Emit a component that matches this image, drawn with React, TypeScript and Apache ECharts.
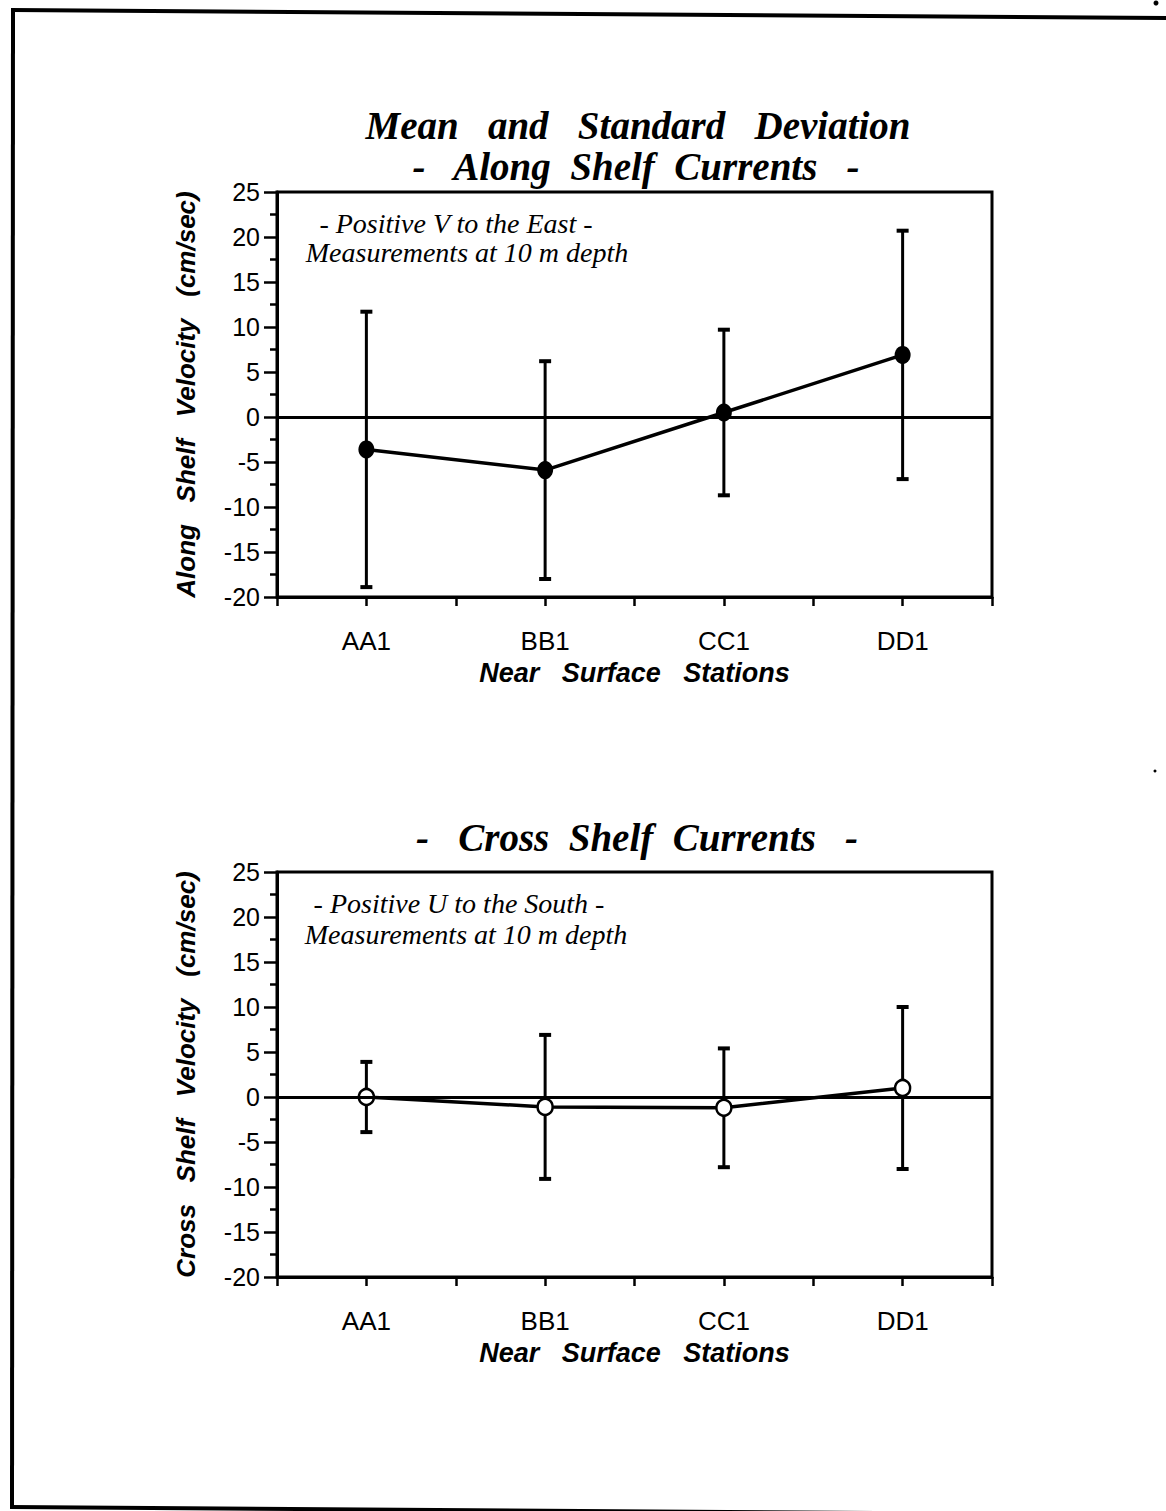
import React, { useEffect, useRef } from "react";
import * as echarts from "echarts";

const stations = ["AA1", "BB1", "CC1", "DD1"];
const alongMean = [-3.6, -5.9, 0.5, 6.9];
const alongStd = [15.3, 12.1, 9.2, 13.8];
const crossMean = [0.0, -1.1, -1.2, 1.0];
const crossStd = [3.9, 8.0, 6.6, 9.0];
const yMin = -20;
const yMax = 25;
const yStep = 5;

const SERIF = "'Liberation Serif', 'Times New Roman', serif";
const SANS = "'Liberation Sans', Arial, Helvetica, sans-serif";

function errorBarRender(params: any, api: any) {
  const x = api.value(0);
  const lo = api.value(1);
  const hi = api.value(2);
  const top = api.coord([x, hi]);
  const bot = api.coord([x, lo]);
  const w = 6;
  return {
    type: "group",
    children: [
      {
        type: "line",
        shape: { x1: top[0], y1: top[1], x2: bot[0], y2: bot[1] },
        style: { stroke: "#000", lineWidth: 3 },
      },
      {
        type: "line",
        shape: { x1: top[0] - w, y1: top[1], x2: top[0] + w, y2: top[1] },
        style: { stroke: "#000", lineWidth: 4 },
      },
      {
        type: "line",
        shape: { x1: bot[0] - w, y1: bot[1], x2: bot[0] + w, y2: bot[1] },
        style: { stroke: "#000", lineWidth: 4 },
      },
    ],
  };
}

function makeXAxis(gridIndex: number) {
  return {
    type: "value",
    gridIndex,
    min: -0.5,
    max: 3.5,
    interval: 0.5,
    name: "Near   Surface   Stations",
    nameLocation: "middle",
    nameGap: 62,
    nameTextStyle: {
      fontFamily: SANS,
      fontSize: 27,
      fontWeight: "bold",
      fontStyle: "italic",
      color: "#000",
    },
    axisLine: { show: true, onZero: false, lineStyle: { color: "#000", width: 3 } },
    axisTick: { show: true, inside: false, length: 9, lineStyle: { color: "#000", width: 2.5 } },
    axisLabel: {
      margin: 31,
      fontFamily: SANS,
      fontSize: 26,
      color: "#000",
      formatter: (v: number) => (Number.isInteger(v) && stations[v] ? stations[v] : ""),
    },
    splitLine: { show: false },
  };
}

function makeYAxis(gridIndex: number, name: string) {
  return {
    type: "value",
    gridIndex,
    min: yMin,
    max: yMax,
    interval: yStep,
    name,
    nameLocation: "middle",
    nameGap: 78,
    nameRotate: 90,
    nameTextStyle: {
      fontFamily: SANS,
      fontSize: 26,
      fontWeight: "bold",
      fontStyle: "italic",
      color: "#000",
    },
    axisLine: { show: true, onZero: false, lineStyle: { color: "#000", width: 3 } },
    axisTick: { show: true, inside: false, length: 13, lineStyle: { color: "#000", width: 2.5 } },
    minorTick: { show: true, splitNumber: 2, length: 7, lineStyle: { color: "#000", width: 2.5 } },
    axisLabel: { margin: 17, fontFamily: SANS, fontSize: 25, color: "#000" },
    splitLine: { show: false },
    minorSplitLine: { show: false },
  };
}

const zeroLine = {
  silent: true,
  symbol: "none",
  data: [{ yAxis: 0 }],
  lineStyle: { color: "#000", width: 3, type: "solid" },
  label: { show: false },
};

export default function App() {
  const ref = useRef<HTMLDivElement>(null);

  useEffect(() => {
    if (!ref.current) return;
    const chart = echarts.init(ref.current, undefined, { renderer: "svg" });

    const alongBars = stations.map((_, i) => [i, alongMean[i] - alongStd[i], alongMean[i] + alongStd[i]]);
    const crossBars = stations.map((_, i) => [i, crossMean[i] - crossStd[i], crossMean[i] + crossStd[i]]);

    const txt = (x: number, y: number, text: string, size: number, weight = "normal") => ({
      type: "text",
      x,
      y,
      silent: true,
      style: {
        text,
        fill: "#000",
        fontFamily: SERIF,
        fontSize: size,
        fontStyle: "italic",
        fontWeight: weight,
        textAlign: "center",
        textVerticalAlign: "middle",
      },
    });

    chart.setOption({
      animation: false,
      backgroundColor: "#fff",
      grid: [
        { left: 277, top: 192, width: 715, height: 405, show: true, borderColor: "#000", borderWidth: 3, backgroundColor: "transparent" },
        { left: 277, top: 872, width: 715, height: 405, show: true, borderColor: "#000", borderWidth: 3, backgroundColor: "transparent" },
      ],
      xAxis: [makeXAxis(0), makeXAxis(1)],
      yAxis: [
        makeYAxis(0, "Along   Shelf   Velocity   (cm/sec)"),
        makeYAxis(1, "Cross   Shelf   Velocity   (cm/sec)"),
      ],
      series: [
        {
          type: "custom",
          xAxisIndex: 0,
          yAxisIndex: 0,
          renderItem: errorBarRender,
          encode: { x: 0, y: [1, 2] },
          data: alongBars,
          z: 2,
        },
        {
          type: "line",
          xAxisIndex: 0,
          yAxisIndex: 0,
          data: alongMean.map((v, i) => [i, v]),
          symbol: "circle",
          symbolSize: [16, 18],
          itemStyle: { color: "#000" },
          lineStyle: { color: "#000", width: 3.5 },
          markLine: zeroLine,
          z: 4,
        },
        {
          type: "custom",
          xAxisIndex: 1,
          yAxisIndex: 1,
          renderItem: errorBarRender,
          encode: { x: 0, y: [1, 2] },
          data: crossBars,
          z: 2,
        },
        {
          type: "line",
          xAxisIndex: 1,
          yAxisIndex: 1,
          data: crossMean.map((v, i) => [i, v]),
          symbol: "circle",
          symbolSize: [15, 16],
          itemStyle: { color: "#fff", borderColor: "#000", borderWidth: 2.5 },
          lineStyle: { color: "#000", width: 3.5 },
          markLine: zeroLine,
          z: 4,
        },
      ],
      graphic: [
        { type: "line", silent: true, shape: { x1: 12, y1: 10, x2: 1166, y2: 18 }, style: { stroke: "#000", lineWidth: 4 } },
        { type: "line", silent: true, shape: { x1: 13, y1: 8, x2: 12, y2: 1509 }, style: { stroke: "#000", lineWidth: 4 } },
        { type: "line", silent: true, shape: { x1: 10, y1: 1507, x2: 1166, y2: 1515 }, style: { stroke: "#000", lineWidth: 4 } },
        { type: "circle", silent: true, shape: { cx: 1156, cy: 3, r: 2.5 }, style: { fill: "#000" } },
        { type: "circle", silent: true, shape: { cx: 1155, cy: 771, r: 1.5 }, style: { fill: "#000" } },
        txt(638, 125, "Mean   and   Standard   Deviation", 39, "bold"),
        txt(636, 166, "-   Along  Shelf  Currents   -", 39, "bold"),
        txt(637, 837, "-   Cross  Shelf  Currents   -", 39, "bold"),
        txt(456, 223, "- Positive V to the East -", 28),
        txt(467, 252, "Measurements at 10 m depth", 28),
        txt(459, 903, "- Positive U to the South -", 28),
        txt(466, 934, "Measurements at 10 m depth", 28),
      ],
    });

    return () => chart.dispose();
  }, []);

  return (
    <div
      ref={ref}
      style={{ position: "absolute", left: 0, top: 0, width: 1166, height: 1511, background: "#fff" }}
    />
  );
}
